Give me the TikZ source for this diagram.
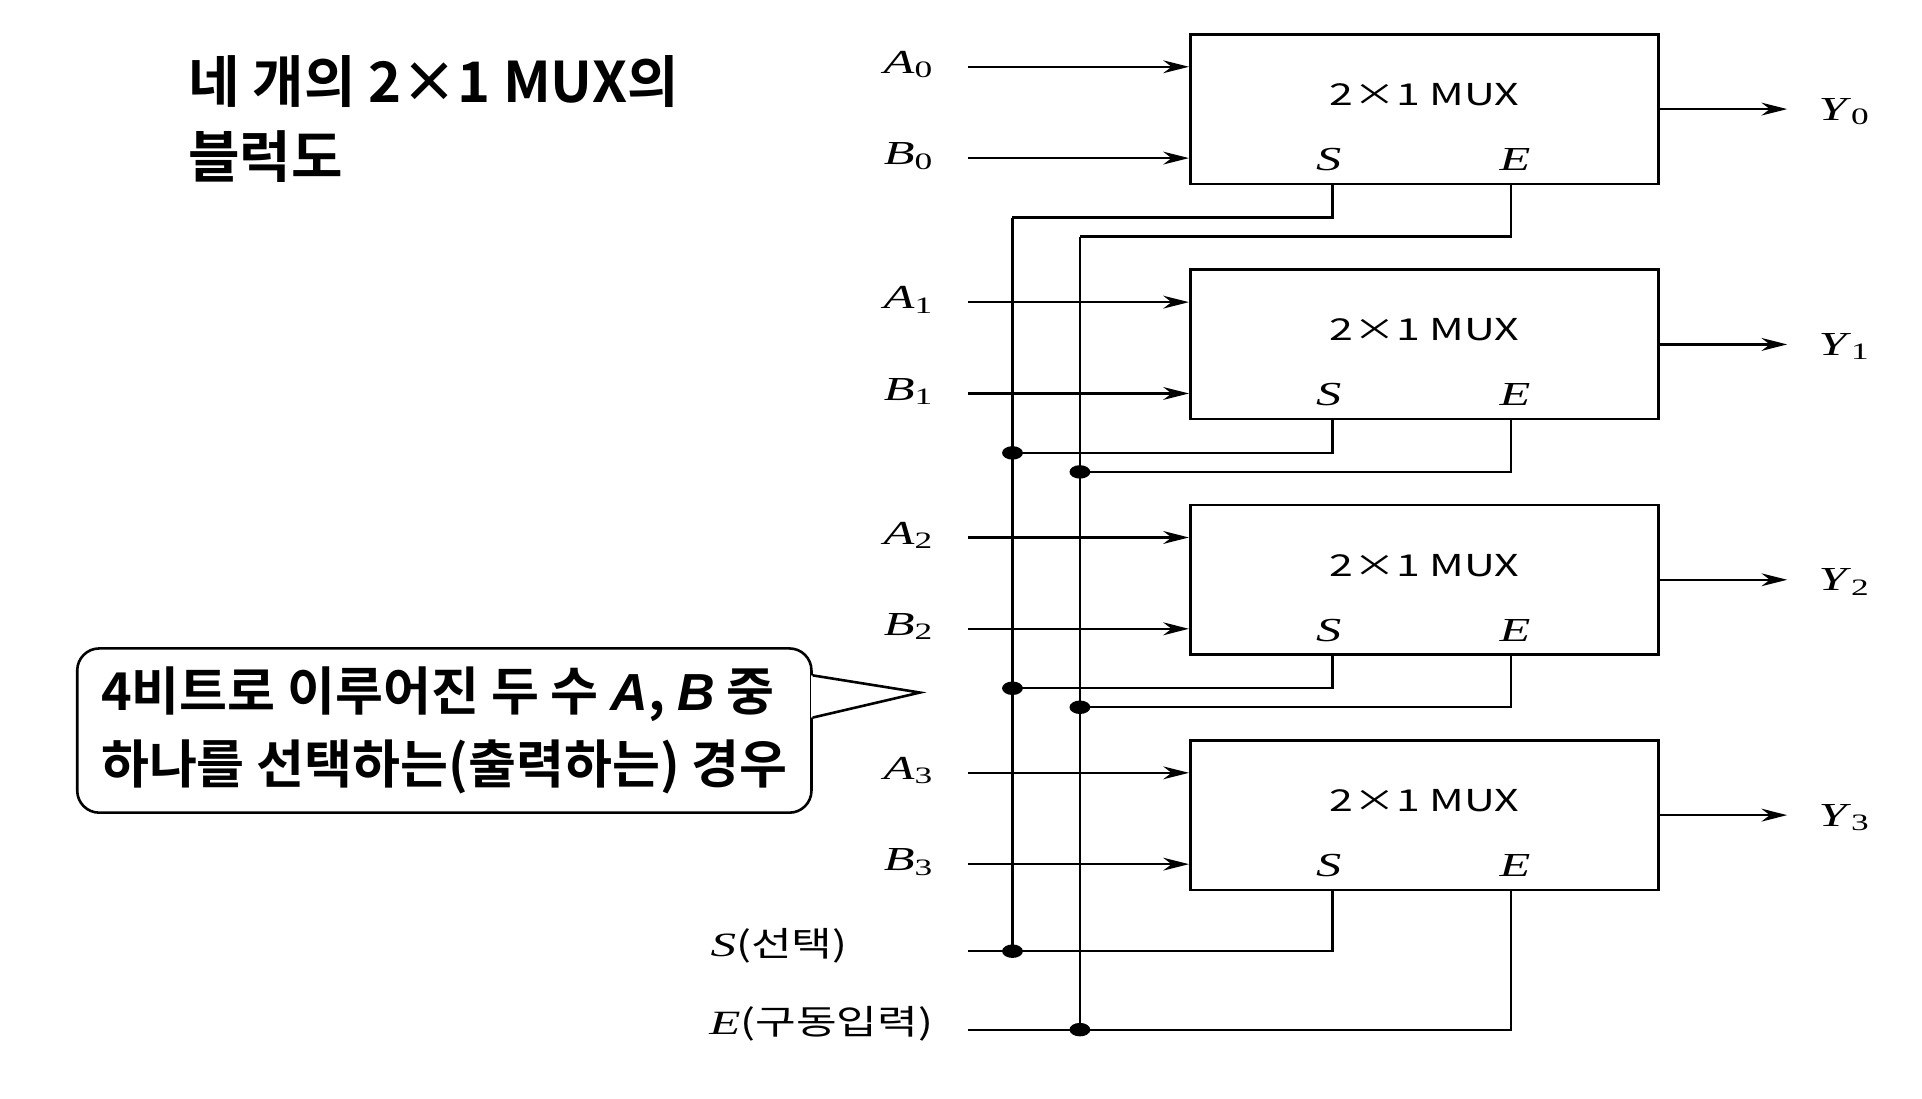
\documentclass[tikz,border=0pt]{standalone}
\usepackage{fontspec}
\usepackage{tikz}
\usetikzlibrary{arrows.meta,positioning,calc}

\setmainfont{Liberation Serif}
\newfontfamily\labfont[FakeStretch=1.5]{Liberation Serif}
\newfontfamily\muxfont[FakeStretch=1.42]{Noto Sans CJK KR}
\newfontfamily\krfont[FakeStretch=1.3]{Noto Sans CJK KR}
\newfontfamily\krbold{Noto Sans CJK KR Bold}
\newfontfamily\latbold{Liberation Sans}

\tikzset{
  muxbox/.style={draw, line width=0.6pt, minimum width=3.82cm, minimum height=1.22cm, inner sep=0pt},
  wire/.style={line width=0.5pt},
  sig/.style={wire, -{Stealth[length=2.1mm,width=1.05mm]}},
  lab/.style={inner sep=0pt, font=\labfont\fontsize{7.8}{9}\selectfont},
  krlab/.style={inner sep=0pt, font=\fontsize{7.9}{9}\selectfont},
}

\begin{document}
\begin{tikzpicture}[>=Stealth, node distance=2mm]
      % Sizes
      \def\bx{11.62}    % box centre x
      \def\pitch{1.92}  % box spacing
      \def\sx{8.26}     % S bus
      \def\ex{8.81}     % E bus
      \def\inx{7.90}    % start of input lines
      \def\outx{14.58}  % end of output arrows

      \useasboundingbox (0,0) rectangle (15.68,-8.96);

      % Title
      \node[anchor=north west, inner sep=0pt, align=left,
            font={\krbold\fontsize{13}{17.2}\selectfont}] (title) at (1.53,-0.45)
            {네 개의 2×1 MUX의\\블럭도};

      % The four multiplexers
      \foreach \i in {0,...,3}{
        \pgfmathsetmacro\cy{-0.89-\pitch*\i}
        \node[muxbox] (m\i) at (\bx,\cy) {};
        \node[anchor=base, inner sep=0pt, font=\muxfont\fontsize{7}{8}\selectfont] (t\i)
              at ([yshift=0.3mm]m\i.center) {2×1 MUX};
        \coordinate (sp\i) at ([xshift=-7.5mm]m\i.south);
        \coordinate (ep\i) at ([xshift=7.1mm]m\i.south);
        \node[lab, anchor=base] (sl\i) at ([shift={(-0.03,0.12)}]sp\i) {\textit{S}};
        \node[lab, anchor=base] (el\i) at ([shift={(0.03,0.12)}]ep\i) {\textit{E}};

        % inputs
        \coordinate (a\i) at (\inx,\cy+0.345);
        \coordinate (b\i) at (\inx,\cy-0.40);
        \node[lab, anchor=base east] (la\i) at ([shift={(-0.27,-0.055)}]a\i) {\textit{A}\textsubscript{\i}};
        \node[lab, anchor=base east] (lb\i) at ([shift={(-0.27,-0.055)}]b\i) {\textit{B}\textsubscript{\i}};
        \draw[sig] (a\i) -- (a\i -| m\i.west);
        \draw[sig] (b\i) -- (b\i -| m\i.west);

        % output
        \coordinate (y\i) at (\outx,\cy);
        \draw[sig] (m\i.east) -- (y\i);
        \node[lab, anchor=base west] (ly\i) at ([shift={(0.25,-0.09)}]y\i) {\textit{Y}\textsubscript{\i}};
      }

      % S and E taps of the upper three boxes
      \foreach \i in {0,1,2}{
        \pgfmathsetmacro\cy{-0.89-\pitch*\i}
        \coordinate (sj\i) at (\sx,\cy-0.885);
        \coordinate (ej\i) at (\ex,\cy-1.04);
        \draw[wire] (sp\i) |- (sj\i);
        \draw[wire] (ep\i) |- (ej\i);
      }

      % Select and enable inputs
      \coordinate (sin) at (\inx,-7.76);
      \coordinate (ein) at (\inx,-8.40);
      \coordinate (sj3) at (\sx,-7.76);
      \coordinate (ej3) at (\ex,-8.40);
      \draw[wire] (sp3) |- (sin);
      \draw[wire] (ep3) |- (ein);
      \node[krlab, anchor=base west] (sname) at ([shift={(-2.11,-0.04)}]sin)
            {{\labfont\textit{S}}{\krfont(선택)}};
      \node[krlab, anchor=base west] (ename) at ([shift={(-2.12,-0.04)}]ein)
            {{\labfont\textit{E}}{\krfont(구동입력)}};

      % Buses
      \draw[line width=0.6pt] (sj0) -- (sj3);
      \draw[line width=0.6pt] (ej0) -- (ej3);
      \foreach \p in {sj1,sj2,sj3,ej1,ej2,ej3}
        \fill (\p) ellipse [x radius=0.85mm, y radius=0.55mm];

      % Callout
      \node[draw, fill=white, rounded corners=1.8mm, line width=0.6pt,
            minimum width=5.99cm, minimum height=1.34cm, align=left,
            font={\krbold\fontsize{12.1}{16.8}\selectfont}] (note) at (3.625,-5.96)
            {4비트로 이루어진 두 수 {\latbold\bfseries\itshape A}, {\latbold\bfseries\itshape B} 중\\
             하나를 선택하는(출력하는) 경우};
      \coordinate (tip) at (7.505,-5.65);
      \fill[white] ([shift={(-0.4pt,4.5mm)}]note.east) -- (tip) -- ([shift={(-0.4pt,1.06mm)}]note.east) -- cycle;
      \draw[line width=0.6pt] ([yshift=4.5mm]note.east) -- (tip) -- ([yshift=1.06mm]note.east);
    \end{tikzpicture}
\end{document}
